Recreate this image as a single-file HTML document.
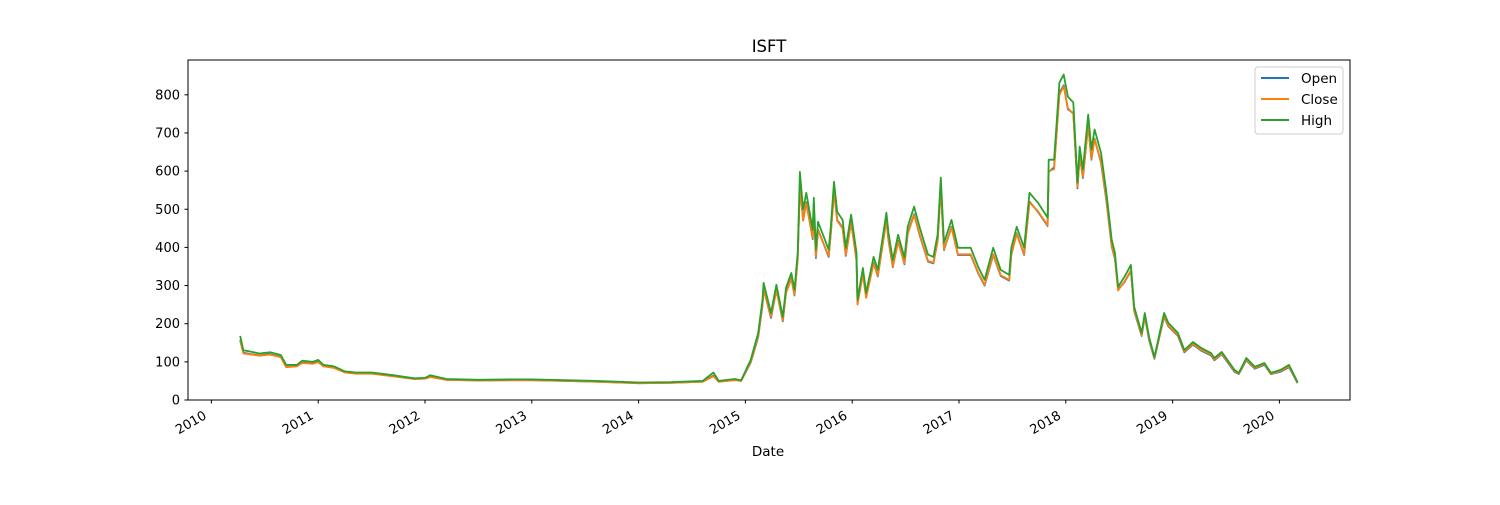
<!DOCTYPE html>
<html><head><meta charset="utf-8"><style>
body{margin:0;background:#fff}
svg text{font-family:"DejaVu Sans","Liberation Sans",sans-serif;fill:#000}
</style></head><body>
<svg id="chart" width="1500" height="500">
<text x="769" y="52" font-size="16.5" text-anchor="middle">ISFT</text>
<g id="axes"></g>
<g id="series" clip-path="url(#clip)"></g>
<defs><clipPath id="clip"><rect x="188" y="60" width="1162" height="340"/></clipPath></defs>
<rect x="188" y="60" width="1162" height="340" fill="none" stroke="#000" stroke-width="1"/>
<g>
<rect x="1255" y="67" width="88" height="67" rx="3" fill="#fff" fill-opacity="0.8" stroke="#ccc"/>
<line x1="1261" y1="78" x2="1289" y2="78" stroke="#1f77b4" stroke-width="2"/>
<text x="1301" y="83" font-size="13.5">Open</text>
<line x1="1261" y1="99" x2="1289" y2="99" stroke="#ff7f0e" stroke-width="2"/>
<text x="1301" y="104" font-size="13.5">Close</text>
<line x1="1261" y1="120" x2="1289" y2="120" stroke="#2ca02c" stroke-width="2"/>
<text x="1301" y="125" font-size="13.5">High</text>
</g>
<text x="768" y="456" font-size="13.5" text-anchor="middle">Date</text>
</svg>
<script>
const dates=[2010.27,2010.3,2010.35,2010.45,2010.55,2010.65,2010.7,2010.8,2010.85,2010.95,2011.0,2011.05,2011.15,2011.25,2011.35,2011.5,2011.7,2011.9,2012.0,2012.05,2012.2,2012.5,2012.8,2013.0,2013.3,2013.6,2014.0,2014.3,2014.6,2014.7,2014.75,2014.9,2014.96,2015.05,2015.12,2015.16,2015.17,2015.24,2015.29,2015.35,2015.38,2015.43,2015.46,2015.49,2015.51,2015.54,2015.57,2015.63,2015.64,2015.66,2015.68,2015.78,2015.8,2015.83,2015.86,2015.91,2015.94,2015.99,2016.04,2016.05,2016.1,2016.13,2016.2,2016.24,2016.32,2016.34,2016.38,2016.43,2016.49,2016.52,2016.58,2016.63,2016.71,2016.76,2016.8,2016.83,2016.86,2016.93,2016.99,2017.11,2017.18,2017.24,2017.32,2017.39,2017.47,2017.49,2017.54,2017.61,2017.66,2017.74,2017.83,2017.84,2017.89,2017.94,2017.98,2018.02,2018.07,2018.11,2018.13,2018.16,2018.21,2018.24,2018.27,2018.33,2018.38,2018.43,2018.46,2018.49,2018.55,2018.61,2018.64,2018.71,2018.74,2018.78,2018.83,2018.92,2018.96,2019.05,2019.11,2019.19,2019.27,2019.36,2019.39,2019.46,2019.58,2019.62,2019.69,2019.77,2019.86,2019.92,2020.01,2020.09,2020.17];
const high=[168,130,128,122,125,118,92,92,103,100,105,92,88,75,72,72,65,57,58,65,55,53,54,54,52,50,46,47,50,72,50,55,52,105,176,262,307,228,302,218,294,333,289,386,598,499,543,446,530,394,467,394,454,572,493,472,399,486,386,262,346,281,375,341,491,438,367,433,373,454,507,454,381,375,433,583,412,472,399,399,349,315,399,341,328,399,454,399,543,517,478,630,630,832,853,795,780,570,664,604,748,656,709,648,543,420,386,297,323,354,244,176,228,165,113,228,202,176,131,152,136,123,110,126,79,71,110,87,97,71,79,92,47];
const closeV=[155,122,120,116,119,112,86,88,97,95,99,88,84,72,69,69,62,55,56,60,53,51,52,52,50,48,44,45,48,62,48,52,50,100,168,250,290,218,288,208,280,318,276,368,560,470,515,425,505,375,445,378,435,545,470,450,380,465,368,250,330,268,358,326,470,420,350,415,358,435,485,435,365,360,415,555,395,452,382,382,334,302,382,327,315,382,435,382,518,495,458,600,605,800,822,765,750,558,640,585,720,632,683,625,525,405,372,287,311,340,235,170,220,159,110,220,195,170,127,147,131,119,106,122,76,69,106,84,94,69,76,88,45];
const openV=[158,124,121,117,120,113,87,89,98,96,100,89,85,73,70,70,63,55,56,61,53,51,52,52,50,48,44,45,48,64,48,53,50,98,165,248,292,215,290,206,282,320,274,370,565,472,518,422,508,372,447,375,437,548,472,452,378,467,366,255,332,270,360,324,472,418,348,417,356,437,487,433,363,358,417,558,393,454,380,380,332,300,380,325,313,380,437,380,520,493,456,598,610,805,825,762,752,555,642,582,722,630,685,622,522,402,370,290,309,338,233,168,218,157,108,218,193,168,125,145,129,117,104,120,74,68,104,82,92,68,74,86,44];
const yTicks=[0,100,200,300,400,500,600,700,800];
const xTicks=[2010,2011,2012,2013,2014,2015,2016,2017,2018,2019,2020];
const X=v=>211.4+(v-2010)*106.8;
const Y=v=>400-v*0.3815;
const NS='http://www.w3.org/2000/svg';
const axes=document.getElementById('axes'),ser=document.getElementById('series');
function mk(tag,attrs,parent){const e=document.createElementNS(NS,tag);for(const k in attrs)e.setAttribute(k,attrs[k]);parent.appendChild(e);return e;}
yTicks.forEach(t=>{
 const l=mk('line',{x1:184.5,x2:188,y1:Y(t),y2:Y(t),stroke:'#000'},axes);
 
 
 const tx=mk('text',{x:180,y:Y(t)+4.5,'font-size':13,'text-anchor':'end'},axes);tx.textContent=t;
 
 
});
xTicks.forEach(t=>{
 const x=X(t);
 const l=mk('line',{x1:x,x2:x,y1:400,y2:403.5,stroke:'#000'},axes);
 
 
 const ax=x-4,ay=418;
 const tx=mk('text',{x:ax,y:ay,'font-size':13,'text-anchor':'end',transform:`rotate(-30 ${ax} ${ay})`},axes);tx.textContent=t;
 
 
});
[[openV,'#1f77b4','open-line'],[closeV,'#ff7f0e','close-line'],[high,'#2ca02c','high-line']].forEach(([vals,c,n])=>{
 const d=vals.map((v,i)=>(i?'L':'M')+X(dates[i]).toFixed(1)+','+Y(v).toFixed(1)).join('');
 const p=mk('path',{d:d,fill:'none',stroke:c,'stroke-width':1.8,'stroke-linejoin':'round'},ser);
 
 
});
</script>
</body></html>
